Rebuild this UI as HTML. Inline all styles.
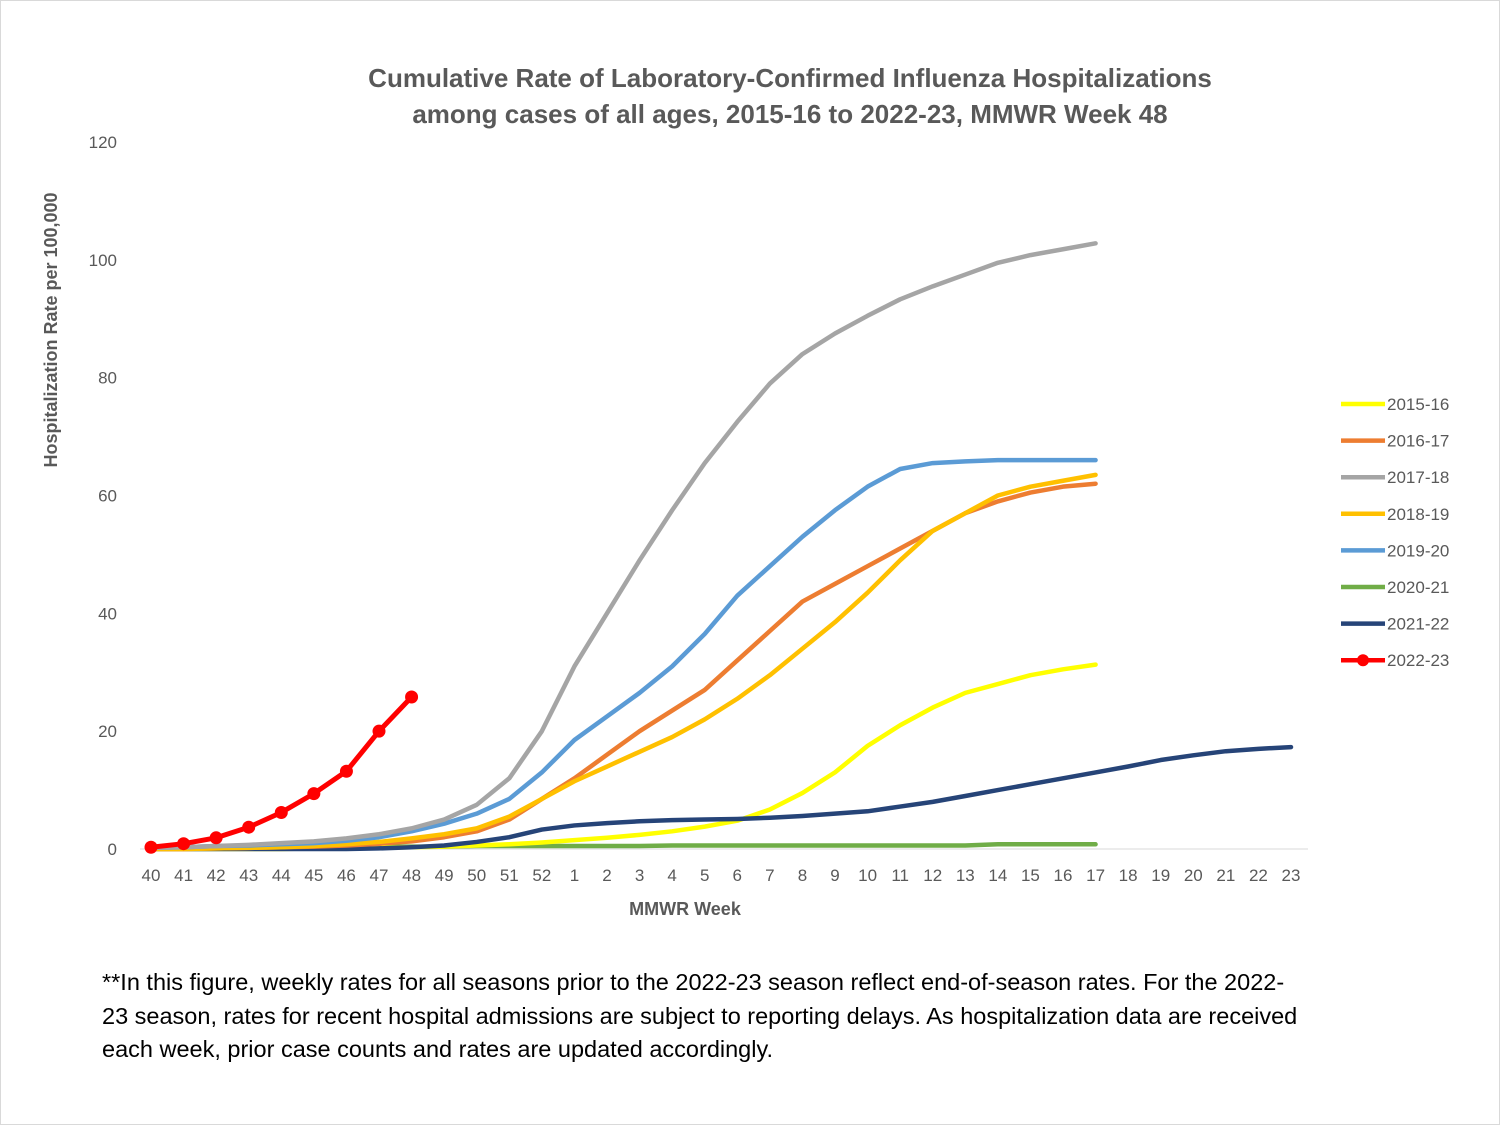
<!DOCTYPE html>
<html><head><meta charset="utf-8"><style>
body{margin:0;background:#fff;}
#wrap{position:relative;width:1500px;height:1125px;overflow:hidden;font-family:"Liberation Sans",sans-serif;}
#wrap:before{content:"";position:absolute;left:0;top:0;right:0;bottom:0;border:1px solid #d9d9d9;}
.note{position:absolute;left:102px;top:966px;width:1380px;font-size:23.5px;line-height:33.5px;color:#000;white-space:nowrap;}
</style></head><body>
<div id="wrap">
<svg id="chart" width="1500" height="1125" style="position:absolute;left:0;top:0"></svg>
<div class="note">**In this figure, weekly rates for all seasons prior to the 2022-23 season reflect end-of-season rates. For the 2022-<br>23 season, rates for recent hospital admissions are subject to reporting delays. As hospitalization data are received<br>each week, prior case counts and rates are updated accordingly.</div>
</div>
<script>
const weeks=["40","41","42","43","44","45","46","47","48","49","50","51","52","1","2","3","4","5","6","7","8","9","10","11","12","13","14","15","16","17","18","19","20","21","22","23"];
const yTicks=[0,20,40,60,80,100,120];
const seasons=["2015-16","2016-17","2017-18","2018-19","2019-20","2020-21","2021-22","2022-23"];
const colors=["#ffff00","#ed7d31","#a5a5a5","#ffc000","#5b9bd5","#70ad47","#264478","#ff0000"];
const s2015=[0,0,0,0,0,0.1,0.1,0.2,0.3,0.4,0.6,0.8,1.1,1.5,1.9,2.4,3,3.8,4.8,6.7,9.5,13,17.5,21,24,26.5,28,29.5,30.5,31.3];
const s2016=[0,0,0.1,0.2,0.3,0.4,0.6,0.9,1.3,2,3,5,8.5,12,16,20,23.5,27,32,37,42,45,48,51,54,57,59,60.5,61.5,62];
const s2017=[0.2,0.3,0.5,0.7,1,1.3,1.8,2.5,3.5,5,7.5,12,20,31,40,49,57.5,65.5,72.5,79,84,87.5,90.5,93.3,95.5,97.5,99.5,100.8,101.8,102.8];
const s2018=[0,0,0.1,0.2,0.3,0.5,0.8,1.2,1.8,2.5,3.5,5.5,8.5,11.5,14,16.5,19,22,25.5,29.5,34,38.5,43.5,49,54,57,60,61.5,62.5,63.5];
const s2019=[0.2,0.3,0.5,0.6,0.8,1,1.4,2,3,4.3,6,8.5,13,18.5,22.5,26.5,31,36.5,43,48,53,57.5,61.5,64.5,65.5,65.8,66,66,66,66];
const s2020=[0.1,0.1,0.2,0.2,0.3,0.3,0.3,0.4,0.4,0.4,0.5,0.5,0.5,0.5,0.5,0.5,0.6,0.6,0.6,0.6,0.6,0.6,0.6,0.6,0.6,0.6,0.8,0.8,0.8,0.8];
const s2021=[0,0,0,0,0,0,0,0.1,0.3,0.6,1.2,2,3.3,4,4.4,4.7,4.9,5,5.1,5.3,5.6,6,6.4,7.2,8,9,10,11,12,13,14,15.1,15.9,16.6,17,17.3];
const s2022=[0.3,0.9,1.9,3.7,6.2,9.4,13.2,20,25.8];
const series=[s2015,s2016,s2017,s2018,s2019,s2020,s2021,s2022];
const NS="http://www.w3.org/2000/svg";
const svg=document.getElementById('chart');
const X0=151,X1=1291,Y0=849,Y1=142;
const xS=i=>X0+i*(X1-X0)/(weeks.length-1);
const yS=v=>Y0-v*(Y0-Y1)/120;
function mk(t,a,p){const e=document.createElementNS(NS,t);for(const k in a)e.setAttribute(k,a[k]);(p||svg).appendChild(e);return e;}
function txt(s,a){const e=mk('text',a);e.textContent=s;return e;}
let t=txt("Cumulative Rate of Laboratory-Confirmed Influenza Hospitalizations",{x:790,y:87,"text-anchor":"middle","font-size":26,"font-weight":"bold",fill:"#595959"});


t=txt("among cases of all ages, 2015-16 to 2022-23, MMWR  Week 48",{x:790,y:123,"text-anchor":"middle","font-size":26,"font-weight":"bold",fill:"#595959"});


yTicks.forEach(v=>{const e=txt(String(v),{x:117,y:yS(v)+6,"text-anchor":"end","font-size":17,fill:"#595959"});

});
const ax=mk('line',{x1:140,x2:1308,y1:Y0,y2:Y0,stroke:"#d9d9d9","stroke-width":1});


weeks.forEach((w,i)=>{const e=txt(w,{x:xS(i),y:881,"text-anchor":"middle","font-size":17,fill:"#595959"});

});
t=txt("MMWR Week",{x:685,y:915,"text-anchor":"middle","font-size":18,"font-weight":"bold",fill:"#595959"});


t=txt("Hospitalization  Rate per 100,000",{x:0,y:0,"text-anchor":"middle","font-size":18,"font-weight":"bold",fill:"#595959",transform:"translate(57,330) rotate(-90)"});


const order=[5,0,6,1,3,4,2,7];
order.forEach(k=>{const d=series[k];
const p=mk('polyline',{points:d.map((v,i)=>xS(i)+","+yS(v)).join(" "),fill:"none",stroke:colors[k],"stroke-width":k==7?5:4.5,"stroke-linejoin":"round","stroke-linecap":"round"});


if(k==7)d.forEach((v,i)=>{const c=mk('circle',{cx:xS(i),cy:yS(v),r:6.5,fill:colors[k]});

});});
seasons.forEach((s,k)=>{const y=404+k*36.6;
const g=mk('g',{});


mk('line',{x1:1341,x2:1385,y1:y,y2:y,stroke:colors[k],"stroke-width":4.5},g);
if(k==7)mk('circle',{cx:1363,cy:y,r:6,fill:colors[k]},g);
const e=mk('text',{x:1387,y:y+6,"font-size":17,fill:"#595959"},g);e.textContent=s;});
</script>
</body></html>
